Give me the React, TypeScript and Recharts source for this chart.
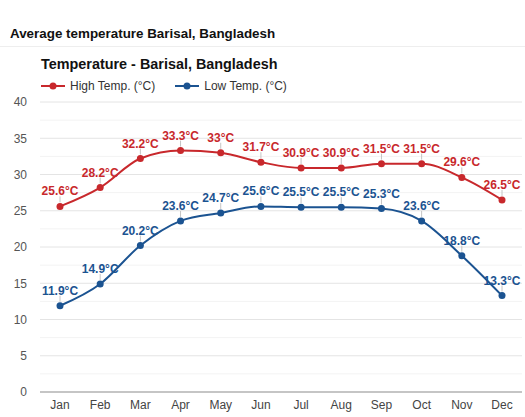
import React from 'react';
import { LineChart, Line, XAxis, YAxis, CartesianGrid, ReferenceLine } from 'recharts';

const months = ['Jan', 'Feb', 'Mar', 'Apr', 'May', 'Jun', 'Jul', 'Aug', 'Sep', 'Oct', 'Nov', 'Dec'];
const highTemp = [25.6, 28.2, 32.2, 33.3, 33, 31.7, 30.9, 30.9, 31.5, 31.5, 29.6, 26.5];
const lowTemp = [11.9, 14.9, 20.2, 23.6, 24.7, 25.6, 25.5, 25.5, 25.3, 23.6, 18.8, 13.3];
const yTicks = [0, 5, 10, 15, 20, 25, 30, 35, 40];
const yMinorTicks = [2.5, 7.5, 12.5, 17.5, 22.5, 27.5, 32.5, 37.5];

const RED = '#c8282c';
const BLUE = '#1b5391';
const FONT = "Arial, 'Liberation Sans', sans-serif";

const data = months.map((m, i) => ({ month: m, high: highTemp[i], low: lowTemp[i] }));

const makeLabel = (color: string) => (props: any) => {
  const { x, y, value } = props;
  return (
    <g>
      <line x1={x} y1={y - 4} x2={x} y2={y - 10} stroke="#c4c4c4" strokeWidth={1} />
      <text
        x={x}
        y={y - 11}
        textAnchor="middle"
        fill={color}
        fontSize={12}
        fontWeight="bold"
        fontFamily={FONT}
      >
        {`${value}°C`}
      </text>
    </g>
  );
};

const LegendItem = ({ color, label }: { color: string; label: string }) => (
  <div style={{ display: 'flex', alignItems: 'center', marginRight: 20 }}>
    <svg width={24} height={10} style={{ marginRight: 5 }}>
      <line x1={0} y1={5} x2={24} y2={5} stroke={color} strokeWidth={2} />
      <circle cx={12} cy={5} r={3.5} fill={color} />
    </svg>
    <span style={{ fontSize: 12, color: '#333' }}>{label}</span>
  </div>
);

export default function App() {
  return (
    <div style={{ position: 'absolute', left: 0, top: 0, width: 525, height: 417, background: '#fff', fontFamily: FONT }}>
      <div style={{ position: 'absolute', left: 10, top: 26, fontSize: 13.4, fontWeight: 'bold', color: '#111' }}>
        Average temperature Barisal, Bangladesh
      </div>
      <div style={{ position: 'absolute', left: 0, top: 46, width: 525, height: 1, background: '#eee' }} />
      <div style={{ position: 'absolute', left: 41, top: 56, fontSize: 14.4, fontWeight: 'bold', color: '#111' }}>
        Temperature - Barisal, Bangladesh
      </div>
      <div style={{ position: 'absolute', left: 41, top: 79, display: 'flex' }}>
        <LegendItem color={RED} label="High Temp. (°C)" />
        <LegendItem color={BLUE} label="Low Temp. (°C)" />
      </div>
      <div style={{ position: 'absolute', left: 0, top: 0 }}>
        <LineChart width={525} height={417} data={data} margin={{ top: 102, right: 3, bottom: 5, left: 0 }}>
          <CartesianGrid vertical={false} stroke="#e4e4e4" />
          {yMinorTicks.map((v) => (
            <ReferenceLine key={v} y={v} stroke="#f3f3f3" />
          ))}
          <XAxis
            dataKey="month"
            tickLine={false}
            axisLine={{ stroke: '#999' }}
            height={20}
            padding={{ left: 20, right: 20 }}
            tick={{ fill: '#444', fontSize: 12, fontFamily: FONT }}
          />
          <YAxis
            domain={[0, 40]}
            ticks={yTicks}
            width={40}
            tickLine={false}
            axisLine={false}
            tickMargin={7}
            tick={{ fill: '#555', fontSize: 12, fontFamily: FONT }}
          />
          <Line
            type="monotone"
            dataKey="high"
            stroke={RED}
            strokeWidth={2}
            dot={{ r: 3.5, fill: RED, stroke: RED, strokeWidth: 0 }}
            label={makeLabel(RED)}
            isAnimationActive={false}
          />
          <Line
            type="monotone"
            dataKey="low"
            stroke={BLUE}
            strokeWidth={2}
            dot={{ r: 3.5, fill: BLUE, stroke: BLUE, strokeWidth: 0 }}
            label={makeLabel(BLUE)}
            isAnimationActive={false}
          />
        </LineChart>
      </div>
    </div>
  );
}
